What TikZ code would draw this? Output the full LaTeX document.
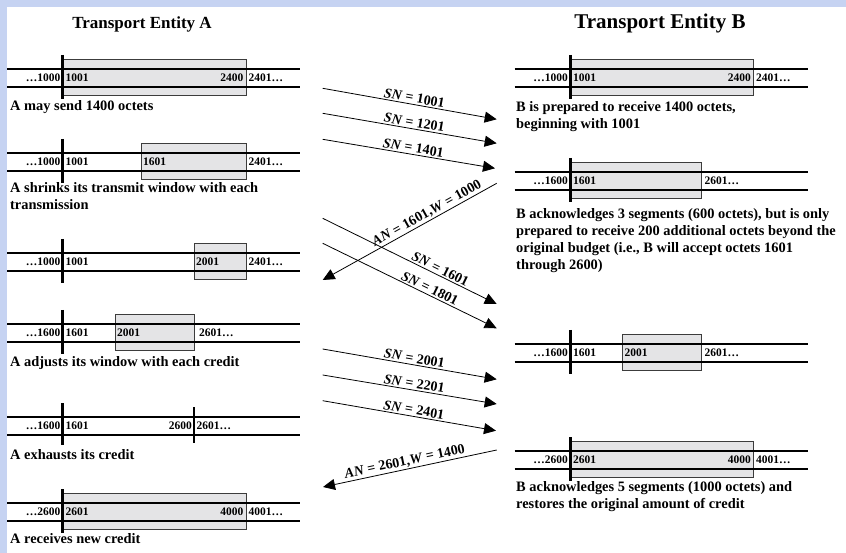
\documentclass[tikz,border=0pt]{standalone}
\usepackage{fontspec}
\setmainfont{Liberation Serif}
\usetikzlibrary{arrows.meta}

\definecolor{slidebg}{RGB}{198,211,242}
\definecolor{winfill}{RGB}{228,228,230}
\definecolor{winedge}{RGB}{60,60,60}

\begin{document}
\begin{tikzpicture}[x=1pt,y=-1pt,
  seqline/.style={line width=2.6pt},
  tickmark/.style={line width=3pt},
  thintick/.style={line width=1.4pt},
  winbox/.style={fill=winfill, draw=winedge, line width=0.9pt},
  num/.style={font=\fontsize{11.5}{13}\selectfont\bfseries, inner sep=0pt},
  captext/.style={font=\fontsize{14.4}{17}\selectfont\bfseries, inner sep=0pt, anchor=base west},
  ttl/.style={font=\bfseries, inner sep=0pt, anchor=base},
  msg/.style={line width=0.8pt, -{Triangle[length=12pt,width=11pt]}},
  msglabel/.style={font=\fontsize{14}{16}\selectfont\bfseries, sloped, above, inner sep=1.5pt},
]
% slide background and white page
\fill[slidebg] (0,0) rectangle (846,553);
\fill[white] (7,7) rectangle (846,553);
\useasboundingbox (0,0) rectangle (846,553);

% headings
\node[ttl, font=\fontsize{17}{20}\selectfont\bfseries] (titleA) at (142,29) {Transport Entity A};
\node[ttl, font=\fontsize{21}{24}\selectfont\bfseries] (titleB) at (660,29) {Transport Entity B};

% ---------------- sender A ----------------
\begin{scope}[shift={(0,69)}]
  \draw[winbox] (62.7,-10) rectangle (246,26);
  \draw[seqline] (7,0) -- (300,0);
  \draw[seqline] (7,18) -- (300,18);
  \draw[tickmark] (62.7,-14) -- (62.7,30);
  \node[num,anchor=east] (a1n1) at (60.5,9) {…1000};
  \node[num,anchor=west] (a1n2) at (65.5,9) {1001};
  \node[num,anchor=east] (a1n3) at (243.5,9) {2400};
  \node[num,anchor=west] (a1n4) at (248.5,9) {2401…};
\end{scope}
\node[captext] (capA1) at (10,111) {A may send 1400 octets};

\begin{scope}[shift={(0,153)}]
  \draw[winbox] (141,-10) rectangle (246,26);
  \draw[seqline] (7,0) -- (300,0);
  \draw[seqline] (7,18) -- (300,18);
  \draw[tickmark] (62.7,-14) -- (62.7,30);
  \node[num,anchor=east] (a2n1) at (60.5,9) {…1000};
  \node[num,anchor=west] (a2n2) at (65.5,9) {1001};
  \node[num,anchor=west] (a2n3) at (143,9) {1601};
  \node[num,anchor=west] (a2n4) at (248.5,9) {2401…};
\end{scope}
\node[captext] (capA2a) at (10,193) {A shrinks its transmit window with each};
\node[captext] (capA2b) at (10,210) {transmission};

\begin{scope}[shift={(0,253)}]
  \draw[winbox] (194,-10) rectangle (246,26);
  \draw[seqline] (7,0) -- (300,0);
  \draw[seqline] (7,18) -- (300,18);
  \draw[tickmark] (62.7,-14) -- (62.7,30);
  \node[num,anchor=east] (a3n1) at (60.5,9) {…1000};
  \node[num,anchor=west] (a3n2) at (65.5,9) {1001};
  \node[num,anchor=west] (a3n3) at (196,9) {2001};
  \node[num,anchor=west] (a3n4) at (248.5,9) {2401…};
\end{scope}

\begin{scope}[shift={(0,324)}]
  \draw[winbox] (115,-10) rectangle (194,26);
  \draw[seqline] (7,0) -- (300,0);
  \draw[seqline] (7,18) -- (300,18);
  \draw[tickmark] (62.7,-14) -- (62.7,30);
  \node[num,anchor=east] (a4n1) at (60.5,9) {…1600};
  \node[num,anchor=west] (a4n2) at (65.5,9) {1601};
  \node[num,anchor=west] (a4n3) at (117,9) {2001};
  \node[num,anchor=west] (a4n4) at (199,9) {2601…};
\end{scope}
\node[captext] (capA4) at (10,366) {A adjusts its window with each credit};

\begin{scope}[shift={(0,417)}]
  \draw[seqline] (7,0) -- (300,0);
  \draw[seqline] (7,18) -- (300,18);
  \draw[tickmark] (62.7,-14) -- (62.7,28);
  \draw[thintick] (194,-10) -- (194,26);
  \node[num,anchor=east] (a5n1) at (60.5,9) {…1600};
  \node[num,anchor=west] (a5n2) at (65.5,9) {1601};
  \node[num,anchor=east] (a5n3) at (192,9) {2600};
  \node[num,anchor=west] (a5n4) at (196.5,9) {2601…};
\end{scope}
\node[captext] (capA5) at (10,459) {A exhausts its credit};

\begin{scope}[shift={(0,503)}]
  \draw[winbox] (62.7,-10) rectangle (246,26);
  \draw[seqline] (7,0) -- (300,0);
  \draw[seqline] (7,18) -- (300,18);
  \draw[tickmark] (62.7,-14) -- (62.7,30);
  \node[num,anchor=east] (a6n1) at (60.5,9) {…2600};
  \node[num,anchor=west] (a6n2) at (65.5,9) {2601};
  \node[num,anchor=east] (a6n3) at (243.5,9) {4000};
  \node[num,anchor=west] (a6n4) at (248.5,9) {4001…};
\end{scope}
\node[captext] (capA6) at (10,543) {A receives new credit};

% ---------------- receiver B ----------------
\begin{scope}[shift={(507.5,69)}]
  \draw[winbox] (62.7,-10) rectangle (246,26);
  \draw[seqline] (7,0) -- (300,0);
  \draw[seqline] (7,18) -- (300,18);
  \draw[tickmark] (62.7,-14) -- (62.7,30);
  \node[num,anchor=east] (b1n1) at (60.5,9) {…1000};
  \node[num,anchor=west] (b1n2) at (65.5,9) {1001};
  \node[num,anchor=east] (b1n3) at (243.5,9) {2400};
  \node[num,anchor=west] (b1n4) at (248.5,9) {2401…};
\end{scope}
\node[captext] (capB1a) at (516,112) {B is prepared to receive 1400 octets,};
\node[captext] (capB1b) at (516,129) {beginning with 1001};

\begin{scope}[shift={(507.5,172)}]
  \draw[winbox] (62.7,-10) rectangle (194,26);
  \draw[seqline] (7,0) -- (300,0);
  \draw[seqline] (7,18) -- (300,18);
  \draw[tickmark] (62.7,-14) -- (62.7,30);
  \node[num,anchor=east] (b2n1) at (60.5,9) {…1600};
  \node[num,anchor=west] (b2n2) at (65.5,9) {1601};
  \node[num,anchor=west] (b2n3) at (197,9) {2601…};
\end{scope}
\node[captext] (capB2a) at (516,219) {B acknowledges 3 segments (600 octets), but is only};
\node[captext] (capB2b) at (516,236) {prepared to receive 200 additional octets beyond the};
\node[captext] (capB2c) at (516,253) {original budget (i.e., B will accept octets 1601};
\node[captext] (capB2d) at (516,270) {through 2600)};

\begin{scope}[shift={(507.5,344)}]
  \draw[winbox] (115,-10) rectangle (194,26);
  \draw[seqline] (7,0) -- (300,0);
  \draw[seqline] (7,18) -- (300,18);
  \draw[tickmark] (62.7,-14) -- (62.7,30);
  \node[num,anchor=east] (b3n1) at (60.5,9) {…1600};
  \node[num,anchor=west] (b3n2) at (65.5,9) {1601};
  \node[num,anchor=west] (b3n3) at (117,9) {2001};
  \node[num,anchor=west] (b3n4) at (197,9) {2601…};
\end{scope}

\begin{scope}[shift={(507.5,451)}]
  \draw[winbox] (62.7,-10) rectangle (246,26);
  \draw[seqline] (7,0) -- (300,0);
  \draw[seqline] (7,18) -- (300,18);
  \draw[tickmark] (62.7,-14) -- (62.7,30);
  \node[num,anchor=east] (b4n1) at (60.5,9) {…2600};
  \node[num,anchor=west] (b4n2) at (65.5,9) {2601};
  \node[num,anchor=east] (b4n3) at (243.5,9) {4000};
  \node[num,anchor=west] (b4n4) at (248.5,9) {4001…};
\end{scope}
\node[captext] (capB4a) at (516,491) {B acknowledges 5 segments (1000 octets) and};
\node[captext] (capB4b) at (516,508) {restores the original amount of credit};

% ---------------- segment and acknowledgement messages ----------------
\coordinate (s1a) at (322.7,88.3);  \coordinate (s1b) at (496.7,119.3);
\coordinate (s2a) at (322.7,113.3); \coordinate (s2b) at (496.7,143.3);
\coordinate (s3a) at (322.7,139.3); \coordinate (s3b) at (495,168.3);
\coordinate (k1b) at (496.7,183.3); \coordinate (k1a) at (322.7,280);
\coordinate (s4a) at (322.7,218.3); \coordinate (s4b) at (496.7,304);
\coordinate (s5a) at (322.7,243.3); \coordinate (s5b) at (496.7,328.3);
\coordinate (s6a) at (322.7,349);   \coordinate (s6b) at (496.7,379.3);
\coordinate (s7a) at (322.7,375);   \coordinate (s7b) at (496.7,404);
\coordinate (s8a) at (322.7,400.7); \coordinate (s8b) at (496,430.7);
\coordinate (k2b) at (496.7,450);   \coordinate (k2a) at (323,487);

\draw[msg] (s1a) -- node[msglabel,pos=0.52] {\textit{SN} = 1001} (s1b);
\draw[msg] (s2a) -- node[msglabel,pos=0.52] {\textit{SN} = 1201} (s2b);
\draw[msg] (s3a) -- node[msglabel,pos=0.52] {\textit{SN} = 1401} (s3b);
\draw[msg] (k1b) -- (k1a);
\path (k1a) -- node[msglabel,pos=0.62] {\textit{AN} = 1601,\textit{W} = 1000} (k1b);
\draw[msg] (s4a) -- node[msglabel,pos=0.66] {\textit{SN} = 1601} (s4b);
\draw[msg] (s5a) -- node[msglabel,pos=0.6] {\textit{SN} = 1801} (s5b);
\draw[msg] (s6a) -- node[msglabel,pos=0.52] {\textit{SN} = 2001} (s6b);
\draw[msg] (s7a) -- node[msglabel,pos=0.52] {\textit{SN} = 2201} (s7b);
\draw[msg] (s8a) -- node[msglabel,pos=0.52] {\textit{SN} = 2401} (s8b);
\draw[msg] (k2b) -- (k2a);
\path (k2a) -- node[msglabel,pos=0.48] {\textit{AN} = 2601,\textit{W} = 1400} (k2b);
\end{tikzpicture}
\end{document}
